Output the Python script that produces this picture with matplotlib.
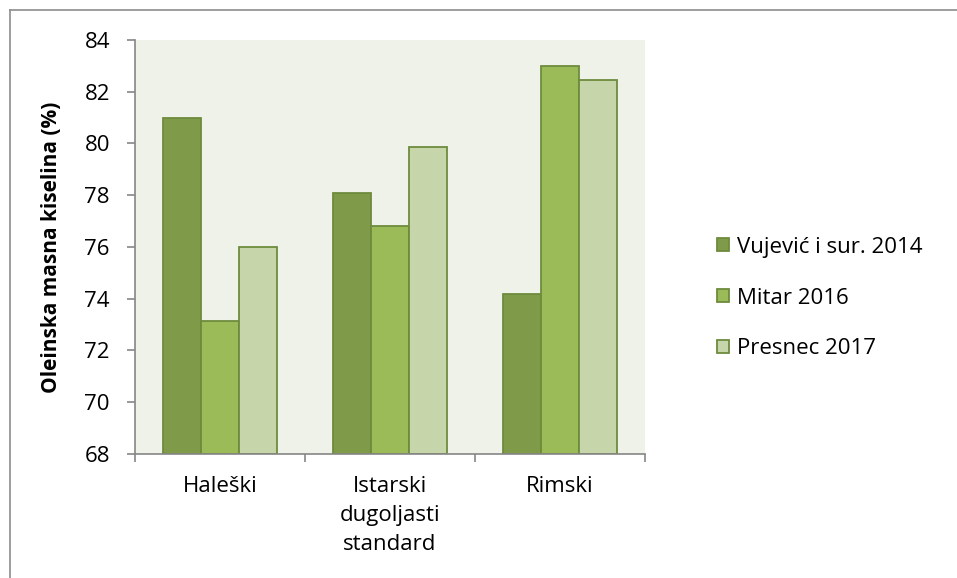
import matplotlib.pyplot as plt
import matplotlib.lines as mlines
import numpy as np

plt.rcParams['font.family'] = ['Open Sans', 'DejaVu Sans']

# --- data ---
categories = ["Haleški", "Istarski\ndugoljasti\nstandard", "Rimski"]
series_names = ["Vujević i sur. 2014", "Mitar 2016", "Presnec 2017"]
vujevic = [81.0, 78.1, 74.17]
mitar = [73.15, 76.82, 83.0]
presnec = [76.0, 79.86, 82.45]
y_ticks = [68, 70, 72, 74, 76, 78, 80, 82, 84]

colors = ["#7F9B4A", "#9BBB59", "#C6D6AA"]
edge = "#6E8B3D"

fig = plt.figure(figsize=(9.57, 5.78), dpi=100)
ax = fig.add_axes([0.141, 0.2145, 0.533, 0.7165])
ax.set_facecolor("#EFF2E8")

x = np.arange(len(categories))
w = 0.224
for i, (vals, name) in enumerate(zip([vujevic, mitar, presnec], series_names)):
    ax.bar(x + (i - 1) * w, np.array(vals) - 68, bottom=68, width=w,
           color=colors[i], edgecolor=edge, linewidth=1.3, label=name)

ax.set_xlim(-0.5, 2.5)
ax.set_ylim(68, 84)
ax.set_yticks(y_ticks)
ax.set_xticks([-0.5, 0.5, 1.5, 2.5], minor=False)
ax.set_xticklabels([])
ax.set_xticks(x, minor=True)
ax.set_xticklabels(categories, minor=True, fontsize=16, linespacing=1.5, va="top")
ax.tick_params(axis="x", which="minor", length=0, pad=16)
ax.tick_params(axis="x", which="major", length=6, color="#868686", width=1.2)
ax.tick_params(axis="y", length=6, color="#868686", width=1.2, labelsize=16, pad=12)

for s in ["top", "right"]:
    ax.spines[s].set_visible(False)
for s in ["left", "bottom"]:
    ax.spines[s].set_color("#868686")
    ax.spines[s].set_linewidth(1.2)

ax.set_ylabel("Oleinska masna kiselina (%)", fontsize=15, fontweight="bold", labelpad=16)

fig.legend(loc="center left", bbox_to_anchor=(717 / 957, 1 - 298 / 578), frameon=False,
           fontsize=16, borderpad=0, borderaxespad=0,
           handlelength=0.54, handleheight=0.54, handletextpad=0.36, labelspacing=1.35)

# outer chart frame (cropped: only top and left edges visible)
bx, by = 9.5 / 957, 1 - 10 / 578
fig.lines.append(mlines.Line2D([bx, 1], [by, by], transform=fig.transFigure,
                               color="#8C8C8C", linewidth=1.2))
fig.lines.append(mlines.Line2D([bx, bx], [0, by], transform=fig.transFigure,
                               color="#8C8C8C", linewidth=1.2))

fig.savefig("out.png", dpi=100)
